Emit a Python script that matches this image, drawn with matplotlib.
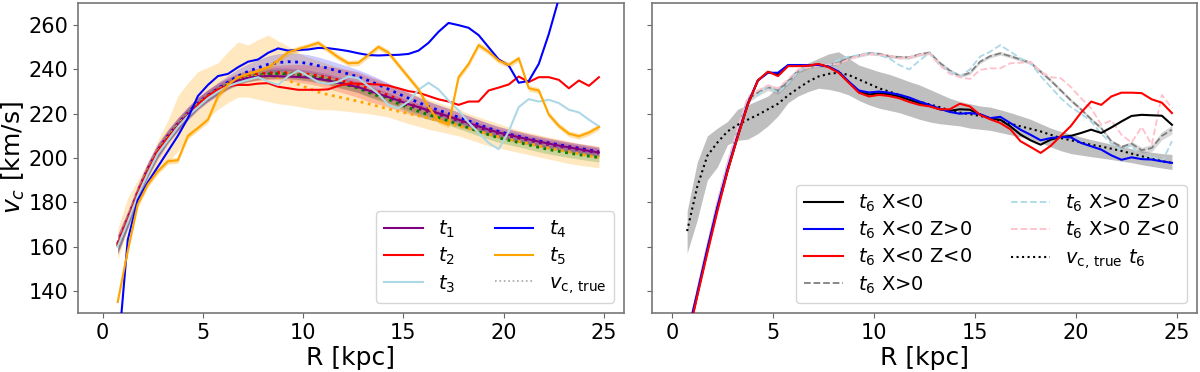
import numpy as np
import matplotlib
matplotlib.use('Agg')
import matplotlib.pyplot as plt

# radial grid [kpc]
R = [0.75, 1.25, 1.75, 2.25, 2.75, 3.25, 3.75, 4.25, 4.75, 5.25,
     5.75, 6.25, 6.75, 7.25, 7.75, 8.25, 8.75, 9.25, 9.75, 10.25,
     10.75, 11.25, 11.75, 12.25, 12.75, 13.25, 13.75, 14.25, 14.75, 15.25,
     15.75, 16.25, 16.75, 17.25, 17.75, 18.25, 18.75, 19.25, 19.75, 20.25,
     20.75, 21.25, 21.75, 22.25, 22.75, 23.25, 23.75, 24.25, 24.75]

# ---- left panel: measured v_c at t1..t5 ----
t1 = [160.5, 171.5, 183.5, 194, 202.5, 209, 214.5, 219.5, 224, 227.5,
      230.5, 233, 235, 236.2, 236.8, 237, 236.9, 236.8, 236.6, 236.3,
      235.7, 235, 234, 233, 232, 230.5, 229, 227.5, 226, 224.3,
      223, 221.5, 220.2, 218.8, 217.3, 215.8, 214.3, 212.8, 211.5, 210.5,
      209.4, 208.4, 207.4, 206.5, 205.6, 204.8, 204, 203.2, 202.5]
t2 = [161, 172, 184, 194, 203, 209, 214, 219, 224, 228,
      231, 232.5, 233, 233, 233.6, 233.8, 232.2, 231.5, 230.8, 230.8,
      230.8, 231, 232.6, 233.6, 233.6, 233.4, 233.2, 232.7, 231.5, 230.2,
      229.5, 228, 226.5, 225.5, 224, 225.5, 225.5, 230.5, 231.8, 233.2,
      236.8, 234.3, 236.5, 236.5, 235.3, 231.5, 235, 232.6, 236.5]
t3 = [160, 171, 183, 193, 202, 208, 214, 219, 223, 227,
      230, 232.5, 234, 235.3, 236.5, 234.5, 233, 237, 239.5, 237,
      234.3, 233.5, 234.5, 236.8, 236, 232.5, 229, 224, 222.5, 225.5,
      230.8, 234, 231, 226, 221.5, 216, 211.3, 206.8, 204, 212,
      223, 226.6, 225.5, 226.3, 224.8, 221.8, 220.6, 217.3, 214.3]
t4 = [110, 163, 181, 189, 196, 203, 210, 218, 228, 233,
      237, 238, 241, 243.5, 244.5, 247.5, 249.5, 248.5, 248.8, 249,
      249.7, 249.6, 249, 248.3, 247.3, 246.5, 246.3, 246.5, 246.6, 247,
      248.5, 252, 257, 261, 260, 258.8, 255.5, 250, 244.5, 241.8,
      234, 234.8, 242.5, 256, 272, 290, 310, 330, 350]
t5 = [135, 158, 179, 188, 194, 198.5, 199, 210, 213.5, 217.3,
      228, 233, 236.5, 238, 239.3, 241, 244, 247.8, 249.2, 250.5,
      252, 248.8, 245.5, 242.8, 243, 246.5, 250.2, 247.6, 242, 236.5,
      231, 223, 217, 215, 236.5, 242.5, 251, 248, 244, 242,
      245, 231.5, 230.5, 219.6, 214.5, 211, 209.8, 211.5, 214]
t5_err = 1.3

# ---- left panel: true v_c for each snapshot ----
vt1 = [161, 172, 184, 194.5, 203, 209.5, 215, 220, 224.5, 228,
       231, 233.5, 235.5, 236.8, 237.6, 238.1, 238.3, 238.2, 237.8, 237.2,
       236.4, 235.5, 234.2, 233.2, 232, 230.2, 228.8, 227.3, 225.5, 223.8,
       222.3, 220.8, 219.6, 218.3, 216.8, 215.3, 213.8, 212.3, 211, 210,
       209, 208, 207, 206.1, 205.3, 204.5, 203.8, 203, 202.3]
vt2 = [161.5, 172.5, 184.5, 195, 203.5, 210, 215.5, 220.3, 224.8, 228.3,
       231.3, 233.8, 235.8, 237.1, 237.9, 238.4, 238.6, 238.5, 238.2, 237.8,
       237.2, 236.4, 235.3, 234.3, 233.1, 231.3, 229.9, 228.3, 226.5, 224.7,
       223.1, 221.5, 220.2, 218.9, 217.4, 215.9, 214.4, 212.9, 211.6, 210.6,
       209.6, 208.6, 207.6, 206.7, 205.9, 205.1, 204.4, 203.6, 202.9]
vt3 = [160, 171.5, 183.5, 194, 202.7, 209.3, 214.8, 219.8, 224.3, 227.8,
       230.8, 233.3, 235.3, 236.6, 237.4, 237.9, 238.1, 238, 237.6, 237,
       236.2, 235.2, 233.9, 232.8, 231.5, 229.6, 228, 226.4, 224.5, 222.7,
       221.1, 219.5, 218.2, 216.8, 215.2, 213.6, 212, 210.5, 209.1, 208,
       207, 205.9, 204.8, 203.8, 203, 202.2, 201.5, 200.8, 200.2]
vt4 = [161, 172.3, 184.3, 194.8, 203.3, 209.8, 215.3, 220.3, 224.8, 228.3,
       231.3, 234.3, 237, 239.1, 240.8, 242.3, 243.1, 243.5, 243.3, 242.7,
       241.7, 240.5, 239.2, 238, 236.6, 235, 233.1, 231.1, 229, 227,
       225.1, 223.2, 221.6, 220.1, 218.4, 216.8, 215.1, 213.5, 212, 210.8,
       209.8, 208.7, 207.7, 206.8, 206, 205.1, 204.4, 203.6, 202.8]
vt5 = [160.5, 172, 184, 194.5, 203, 209.5, 215, 220, 224.5, 228,
       231, 233.5, 235.3, 236.5, 237, 237, 236.3, 235, 233.3, 231.5,
       229.8, 228.6, 227.6, 226.6, 225.6, 224.5, 223.3, 222.2, 221.1, 220.1,
       219.1, 218, 216.8, 215.6, 214.4, 213.2, 212, 210.8, 209.6, 208.5,
       207.5, 206.5, 205.5, 204.5, 203.6, 202.8, 201.9, 201, 200.3]

# uncertainty half-widths of the true curves
err1 = [4.5, 4, 3.8, 3.5, 3.5, 3.2, 3, 3, 3, 2.8,
        2.8, 2.6, 2.6, 2.5, 2.5, 2.5, 2.5, 2.5, 2.5, 2.5,
        2.5, 2.5, 2.5, 2.5, 2.5, 2.3, 2.3, 2.3, 2.2, 2.2,
        2.2, 2.1, 2.1, 2, 2, 2, 2, 2, 2, 2,
        2, 2, 2, 2, 2, 2, 2, 2, 2]
err2 = [4, 3.5, 3.2, 3, 3, 2.8, 2.8, 2.6, 2.5, 2.5,
        2.5, 2.5, 2.5, 2.5, 2.7, 3, 3.3, 3.6, 4, 4.3,
        4.6, 5, 5.3, 5.6, 5.8, 5.8, 5.6, 5.3, 5, 4.7,
        4.3, 4, 3.7, 3.4, 3.2, 3, 2.8, 2.7, 2.6, 2.5,
        2.5, 2.4, 2.4, 2.3, 2.3, 2.3, 2.2, 2.2, 2.2]
err3 = [3.5, 3.2, 3, 2.8, 2.6, 2.5, 2.4, 2.3, 2.2, 2.1,
        2, 2, 2, 2, 2, 2, 2, 2, 2, 2,
        2, 2, 2, 2, 2, 2, 2, 2, 2, 2,
        2, 2, 2, 2, 2, 2, 2, 2, 2, 2,
        2, 2, 2, 2, 2, 2, 2, 2, 2]
err4 = [4, 3.5, 3.2, 3, 3, 2.8, 2.8, 2.7, 2.7, 2.7,
        2.8, 3, 3.2, 3.4, 3.6, 3.8, 4, 4, 4, 4,
        3.9, 3.8, 3.6, 3.4, 3.2, 3, 2.9, 2.8, 2.7, 2.6,
        2.5, 2.5, 2.4, 2.4, 2.3, 2.3, 2.3, 2.2, 2.2, 2.2,
        2.1, 2.1, 2.1, 2, 2, 2, 2, 2, 2]
vt5_lo = [154, 168, 181, 188, 194, 198, 203, 209, 214, 218,
          222, 225, 227.5, 227.5, 226.5, 225.5, 224.5, 224, 223.3, 222.5,
          221.8, 221.8, 221.5, 221, 220.5, 220, 219.3, 218.5, 217, 215.5,
          214.3, 213, 212, 211, 210, 208.5, 207, 205.5, 204.5, 203.5,
          202.5, 201.5, 200.5, 199.5, 198.5, 197.5, 196.8, 196.2, 195.6]
vt5_hi = [168, 182, 190, 198, 208, 217, 228, 234, 239, 241,
          243, 248, 252.5, 251, 253.5, 255.5, 253, 250.5, 247.5, 245.5,
          244, 242.5, 241, 239.5, 238, 236.5, 235, 233, 231, 229.5,
          228.3, 226.5, 225, 223.5, 222, 220, 218.5, 217, 215.5, 214,
          212.5, 211.5, 210.5, 209.5, 208.5, 207.5, 206.5, 206, 205.3]

# ---- right panel: t6 split by region ----
xneg = [118, 138, 158, 177, 194, 209.5, 224, 235, 238.8, 237.8,
        241.8, 241.8, 241.8, 242.3, 241.2, 238.8, 234.3, 230, 228.7, 229.2,
        228.8, 227.8, 226.3, 224.8, 223.6, 222, 221.3, 222, 221.8, 219.6,
        217.8, 217.3, 214.3, 210.6, 208, 206, 208.3, 209.5, 210, 211.3,
        212.8, 211.3, 213.8, 216.5, 219, 219.5, 219.3, 219.1, 215]
xneg_zpos = [120, 139, 159, 178, 195, 210, 224.5, 235, 238.5, 238.5,
             242, 242, 242, 242, 241.3, 239, 234.5, 230.5, 229.6, 230,
             229.5, 228.6, 227.3, 225.5, 224, 222.3, 220.8, 220, 220.3, 219.8,
             218, 218.6, 215.8, 212.8, 210.5, 208, 209, 209.5, 209.3, 206.8,
             205.3, 203.8, 201.2, 199.2, 200.3, 199.5, 199.3, 198.5, 197.8]
xneg_zneg = [117, 137.5, 157, 176, 194, 209.5, 224, 235, 239, 237,
             241.5, 241.5, 241.7, 242.5, 241, 238.5, 234, 229.5, 227.8, 228.5,
             228, 227, 225.3, 224, 223.3, 222, 222, 224.5, 223.3, 219.5,
             217.5, 215.8, 213, 207.6, 205, 202.3, 205.5, 210, 214.5, 220.5,
             225.5, 224, 227.8, 229.5, 229.5, 229.3, 226.5, 225, 220.3]
xpos = [118, 139.5, 160, 179.5, 197, 212, 226.5, 229.5, 232, 230.3,
        234.5, 239.5, 241.3, 241.8, 242, 243, 245.3, 246.3, 247.3, 247,
        246, 245.5, 245.5, 246.8, 247.6, 243, 239.5, 237, 238.5, 243.5,
        246, 247.3, 246, 244.5, 243, 239, 235, 230.5, 226, 222,
        217.5, 213.5, 207.5, 205, 206.5, 203.5, 204.5, 210, 212.8]
xpos_err = [0.5, 0.5, 0.5, 0.8, 1, 1.2, 1.5, 1.5, 1.5, 1.5,
            1.5, 1.2, 1, 0.8, 0.8, 0.8, 0.8, 0.8, 0.8, 0.8,
            0.8, 0.8, 0.8, 0.8, 0.8, 0.8, 0.8, 0.8, 0.8, 0.8,
            0.8, 0.8, 0.8, 0.8, 0.8, 0.8, 0.8, 0.8, 0.8, 0.8,
            0.8, 0.8, 0.8, 0.8, 1, 1.3, 1.6, 1.8, 2]
xpos_zpos = [117, 139, 159.5, 179, 196.5, 211, 225.5, 228.5, 232.5, 229.5,
             233.8, 239, 241.8, 242.3, 241.5, 244.5, 245.8, 246.5, 247.5, 246.5,
             245, 242, 240, 244, 247.5, 242, 239, 236.8, 240, 245.8,
             248, 251, 248, 245, 243, 237, 232, 227, 223, 220,
             216.5, 211, 206.5, 203.5, 206, 199.3, 201, 198, 207.6]
xpos_zneg = [119, 140.5, 161, 180.5, 198, 213.5, 227.5, 230.5, 232.8, 231.5,
             235.5, 240, 240.8, 241.5, 242.3, 242.5, 244.5, 246.3, 247, 246.5,
             246.3, 245, 245.5, 246.5, 247, 242, 238, 236.5, 235.7, 239.8,
             240.5, 240.5, 242.8, 243, 243.5, 239, 236.5, 236, 232, 227,
             222.5, 215, 217, 210.5, 207, 214, 206, 228.5, 222.5]
vt6 = [167, 187, 201, 207, 212, 215, 217.3, 219.5, 222, 224.5,
       228.3, 231.5, 234.5, 236.8, 238, 238.5, 237.5, 235.5, 233.5, 231.5,
       230, 228.5, 227, 225.5, 224.2, 223, 221.5, 220.5, 219.8, 219,
       218, 216.8, 215.5, 214.3, 213.2, 212, 210.5, 209, 208, 207,
       206, 205.2, 204.2, 203.2, 202, 200.8, 199.6, 198.6, 197.8]
vt6_lo = [157, 172, 190, 196, 206, 208, 208.5, 211, 214.5, 219,
          225, 228, 230, 231.5, 231, 230, 228.5, 226, 224, 222.5,
          221.5, 220.5, 219, 217.5, 216.3, 215.5, 215, 214.5, 213.5, 213,
          212.5, 211.5, 210.5, 209.5, 208.5, 207, 205, 203.3, 202, 201.3,
          200.6, 200, 199.3, 198.6, 197.9, 197, 196.2, 195.5, 194.8]
vt6_hi = [176, 198, 210, 213.5, 216.5, 222, 224, 226, 228, 232,
          236, 240.5, 243, 245, 247, 248, 245, 242, 240.5, 239,
          237.8, 236.2, 234.5, 233, 231, 229, 227, 225.5, 224.5, 223.5,
          223, 221.8, 220.5, 219, 217.5, 215.5, 213.5, 212, 210.8, 209.5,
          208.3, 207.3, 206.2, 205.2, 204.2, 203.3, 202.6, 202, 201.6]

R = np.array(R)


def band(ax, x, y, err, color, alpha):
    y = np.array(y)
    err = np.array(err)
    ax.fill_between(x, y - err, y + err, color=color, alpha=alpha, lw=0)


fig = plt.figure(figsize=(12, 3.72), dpi=100)
ax1 = fig.add_axes([0.065, 0.1586, 0.455, 0.8333])
ax2 = fig.add_axes([0.5433, 0.1586, 0.4542, 0.8333], sharey=ax1)

# left panel
ax1.fill_between(R, vt5_lo, vt5_hi, color='orange', alpha=0.25, lw=0, zorder=1)
band(ax1, R, vt1, err1, 'purple', 0.2)
band(ax1, R, vt2, err2, 'red', 0.2)
band(ax1, R, vt3, err3, 'green', 0.2)
band(ax1, R, vt4, err4, 'blue', 0.2)
band(ax1, R, t5, t5_err * np.ones(len(R)), 'orange', 0.35)

ax1.plot(R, t1, color='purple', lw=1.5, label='$t_1$', zorder=3)
ax1.plot(R, t2, color='red', lw=1.5, label='$t_2$', zorder=3)
ax1.plot(R, t3, color='lightblue', lw=1.5, label='$t_3$', zorder=3)
ax1.plot(R, t4, color='blue', lw=1.5, label='$t_4$', zorder=3)
ax1.plot(R, t5, color='orange', lw=1.5, label='$t_5$', zorder=3)

for vt, c in [(vt1, 'purple'), (vt2, 'red'), (vt3, 'green'),
              (vt4, 'blue'), (vt5, 'orange')]:
    ax1.plot(R, vt, ls=':', color=c, lw=2, zorder=2)
ax1.plot([], [], ls=':', color='grey', lw=1.2, alpha=0.7,
         label=r'$v_{\rm c,\,true}$')

ax1.set_xlim(-1.23, 26.0)
ax1.set_ylim(130, 270)
ax1.set_xlabel('R [kpc]', fontsize=18, labelpad=2)
ax1.set_ylabel('$v_c$ [km/s]', fontsize=18, labelpad=1)
ax1.legend(loc='lower right', ncol=2, fontsize=14, labelspacing=0.3)

# right panel
ax2.fill_between(R, vt6_lo, vt6_hi, color='grey', alpha=0.5, lw=0, zorder=1)
band(ax2, R, xpos, xpos_err, 'grey', 0.3)
ax2.plot(R, xneg, color='black', lw=1.5, label='$t_6$ X<0', zorder=3)
ax2.plot(R, xneg_zpos, color='blue', lw=1.5, label='$t_6$ X<0 Z>0', zorder=3)
ax2.plot(R, xneg_zneg, color='red', lw=1.5, label='$t_6$ X<0 Z<0', zorder=3)
ax2.plot(R, xpos, color='grey', ls='--', lw=1.3, label='$t_6$ X>0', zorder=2)
ax2.plot(R, xpos_zpos, color='lightblue', ls='--', lw=1.3,
         label='$t_6$ X>0 Z>0', zorder=2)
ax2.plot(R, xpos_zneg, color='pink', ls='--', lw=1.3,
         label='$t_6$ X>0 Z<0', zorder=2)
ax2.plot(R, vt6, color='black', ls=':', lw=1.5,
         label=r'$v_{\rm c,\,true}$ $t_6$', zorder=2)

ax2.set_xlim(-0.99, 25.99)
ax2.set_xlabel('R [kpc]', fontsize=18, labelpad=2)
ax2.tick_params(labelleft=False)
ax2.legend(loc='lower right', ncol=2, fontsize=14, labelspacing=0.3)

for ax in (ax1, ax2):
    ax.tick_params(labelsize=15, color='#666666')
    for sp in ax.spines.values():
        sp.set_color('#777777')
        sp.set_linewidth(1.2)

fig.savefig('out.png', dpi=100)
